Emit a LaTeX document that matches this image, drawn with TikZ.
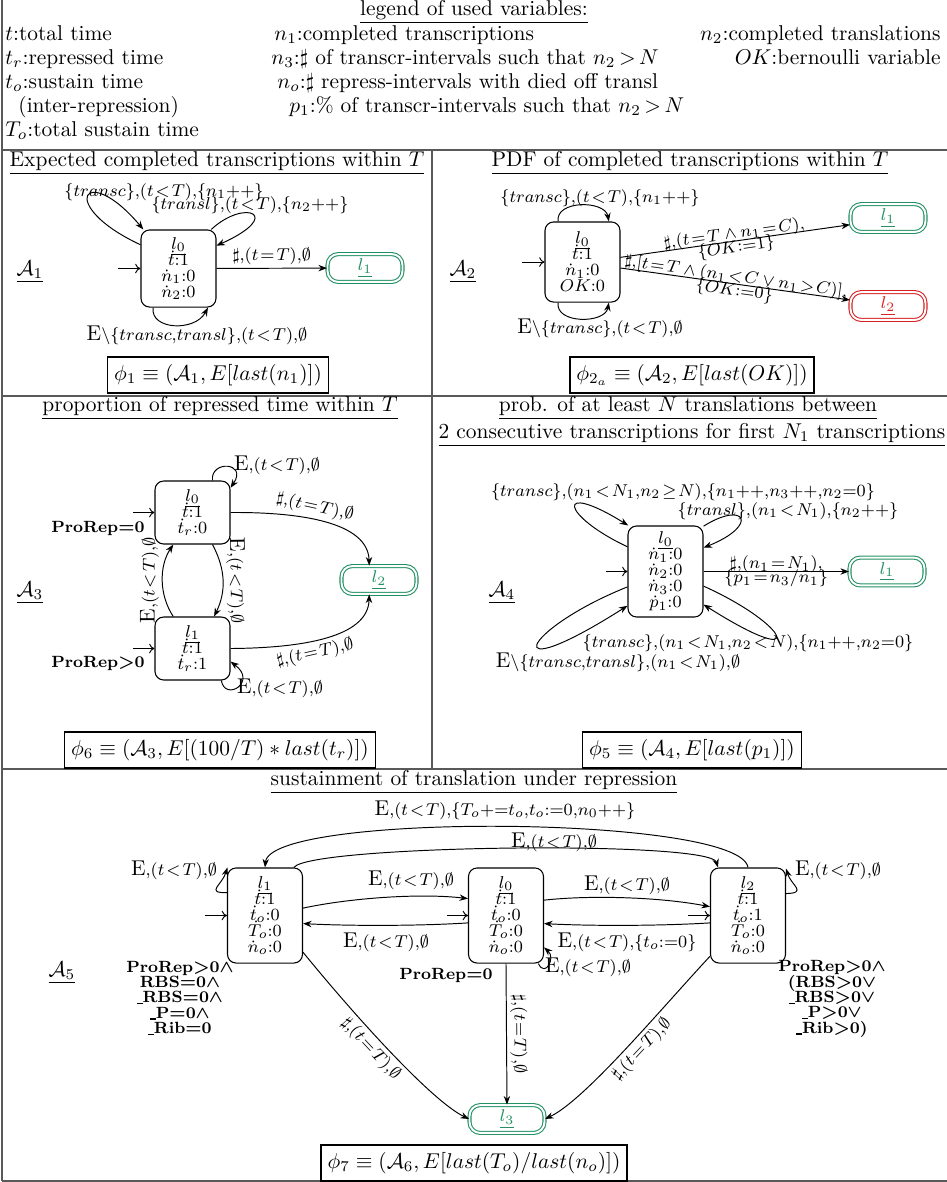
\documentclass[tikz,border=0pt]{standalone}
\usepackage{amsmath,amssymb}
\usetikzlibrary{arrows.meta}
\definecolor{fgreen}{RGB}{35,145,100}
\definecolor{fred}{RGB}{215,35,35}
\newcommand{\tlT}{(t\!<\!T)}
\newcommand{\teT}{(t\!=\!T)}
\newcommand{\Eb}{{\normalsize E}}
\newcommand{\cm}{{,}}
\newcommand{\ubar}{\rule[-0.6pt]{2.6pt}{0.6pt}}
\begin{document}
\begin{tikzpicture}[x=0.467pt,y=-0.467pt,
  st/.style={draw,rounded corners=4pt,align=center,font={\footnotesize\baselineskip=7.5pt\lineskiplimit=-100pt\relax},minimum width=35pt,inner sep=1pt,line width=0.5pt},
  fin/.style={draw=#1,double,double distance=0.9pt,rounded corners=5pt,minimum width=35pt,minimum height=13pt,text=#1,font=\footnotesize,line width=0.5pt,inner sep=1pt},
  lab/.style={font=\footnotesize,inner sep=1.5pt},
  labtwo/.style={font={\footnotesize\baselineskip=6.5pt\lineskiplimit=-100pt\relax},align=center,inner sep=0.5pt},
  tr/.style={-{Stealth[length=4pt,width=3pt]},line width=0.45pt},
  ini/.style={-{To[length=2.5pt,width=4.5pt]},line width=0.45pt},
  phi/.style={draw,line width=0.6pt,inner sep=3pt,minimum height=16.8pt},
  gridln/.style={draw=black!65,line width=0.7pt},
  cond/.style={font={\fontsize{7.6}{7.2}\selectfont\bfseries\boldmath\lineskiplimit=-100pt\relax},align=center,inner sep=0pt},
  ttl/.style={inner sep=1pt},
  leg/.style={inner sep=0pt}
]
\useasboundingbox (0,0) rectangle (947,1182);
% table lines
\draw[gridln] (2,0) -- (2,1181);
\draw[gridln] (2,150) -- (947,150);
\draw[gridln] (2,396) -- (947,396);
\draw[gridln] (2,769) -- (947,769);
\draw[gridln] (432,150) -- (432,769);
\draw[gridln,line width=1.2pt] (2,1181) -- (947,1181);

% legend
\node[leg,anchor=base] (lt) at (474,15) {\underline{legend of used variables:}};
\node[leg,anchor=base west] (v1) at (5,40.5) {$t$:total time};
\node[leg,anchor=base west] (v2) at (5,64.5) {$t_r$:repressed time};
\node[leg,anchor=base west] (v3) at (5,88.5) {$t_o$:sustain time};
\node[leg,anchor=base west] (v4) at (18,112.5) {(inter-repression)};
\node[leg,anchor=base west] (v5) at (5,136.5) {$T_o$:total sustain time};
\node[leg,anchor=base west] (m1) at (274,40.5) {$n_1$:completed transcriptions};
\node[leg,anchor=base west] (m2) at (271,64.5) {$n_3$:$\sharp$ of transcr-intervals such that $n_2\,{>}\,N$};
\node[leg,anchor=base west] (m3) at (277,88.5) {$n_o$:$\sharp$ repress-intervals with died off transl};
\node[leg,anchor=base west] (m4) at (289,112.5) {$p_1$:\% of transcr-intervals such that $n_2\,{>}\,N$};
\node[leg,anchor=base east] (r1) at (941,40.5) {$n_2$:completed translations};
\node[leg,anchor=base east] (r2) at (941,64.5) {$OK$:bernoulli variable};

% ---------- A1
\node[ttl] (t1) at (217,163) {\underline{Expected completed transcriptions within $T$}};
\node (a1) at (30,272) {$\underline{\mathcal{A}_1}$};
\node[st,minimum height=36pt] (s10) at (178.5,268.5) {$\underline{l_0}$\\$\dot{t}$:1\\$\dot{n}_1$:0\\$\dot{n}_2$:0};
\node[fin=fgreen] (f11) at (365,268) {$\underline{l_1}$};
\coordinate (i10) at (118,268.5);
\draw[ini] (i10) -- (s10);
\draw[tr] (s10) -- node[lab,above]{$\sharp\cm\teT\cm\emptyset$} (f11);
\draw[tr] (s10.148.6) .. controls (55,205) and (85,160) .. (s10.132.7);
\draw[tr] (s10.50.7) .. controls (245,198) and (285,215) .. (s10.31.4);
\draw[tr] (s10.-123.5) .. controls (150,330) and (195,332) .. (s10.-53.5);
\node[lab] (l11) at (164,192) {$\{transc\}\cm\tlT\cm\{n_1{+}{+}\}$};
\node[lab] (l12) at (250,205) {$\{transl\}\cm\tlT\cm\{n_2{+}{+}\}$};
\node[lab] (l13) at (197,335) {\Eb$\backslash\{transc\cm transl\}\cm\tlT\cm\emptyset$};
\node[phi] (p1) at (218,375) {$\phi_1 \equiv (\mathcal{A}_1, E[last(n_1)])$};

% ---------- A2
\node[ttl] (t2) at (690,163) {\underline{PDF of completed transcriptions within $T$}};
\node (a2) at (463,272) {$\underline{\mathcal{A}_2}$};
\node[st,minimum height=37.4pt] (s20) at (582.5,262) {$\underline{l_0}$\\$\dot{t}$:1\\$\dot{n}_1$:0\\$OK$:0};
\node[fin=fgreen] (f21) at (888,218) {$\underline{l_1}$};
\node[fin=fred] (f22) at (888,306) {$\underline{l_2}$};
\coordinate (i20) at (522,262);
\draw[ini] (i20) -- (s20);
\draw[tr] (s20.7.6) -- node[labtwo,sloped]{$\sharp\cm(t\!=\!T\wedge n_1\!=\!C)\cm$\\$\{OK{:=}1\}$} (f21.190);
\draw[tr] (s20.-9) -- node[labtwo,sloped]{$\sharp\cm[t\!=\!T\wedge(n_1\!<\!C\vee n_1\!>\!C)]\cm$\\$\{OK{:=}0\}$} (f22.171.5);
\draw[tr] (s20.121.5) .. controls (555,200) and (605,200) .. (s20.57.5);
\draw[tr] (s20.-121.5) .. controls (555,324) and (605,324) .. (s20.-57.5);
\node[lab] (l21) at (600,198) {$\{transc\}\cm\tlT\cm\{n_1{+}{+}\}$};
\node[lab] (l22) at (600,328) {\Eb$\backslash\{transc\}\cm\tlT\cm\emptyset$};
\node[phi] (p2) at (692,375) {$\phi_{2_a} \equiv (\mathcal{A}_2, E[last(OK)])$};

% ---------- A3
\node[ttl] (t3) at (220,408) {\underline{proportion of repressed time within $T$}};
\node (a3) at (30,593) {$\underline{\mathcal{A}_3}$};
\node[st,minimum height=29.4pt] (s30) at (192.5,512.5) {$\underline{l_0}$\\$\dot{t}$:1\\$\dot{t}_r$:0};
\node[st,minimum height=29.4pt] (s31) at (192.5,648.5) {$\underline{l_1}$\\$\dot{t}$:1\\$\dot{t}_r$:1};
\node[fin=fgreen] (f32) at (379,580) {$\underline{l_2}$};
\coordinate (i30) at (133,512.5);
\coordinate (i31) at (133,648.5);
\draw[ini] (i30) -- (s30);
\draw[ini] (i31) -- (s31);
\node[cond] (c30) at (98,528) {ProRep$=$0};
\node[cond] (c31) at (98,663) {ProRep$>$0};
\draw[tr] (s30.58.2) .. controls (210,460) and (248,462) .. (s30.33.2);
\node[lab] (l30) at (277,465) {\Eb$\cm\tlT\cm\emptyset$};
\draw[tr] (s31.-48.9) .. controls (225,702) and (258,682) .. (s31.-19.8);
\node[lab] (l31) at (280,688) {\Eb$\cm\tlT\cm\emptyset$};
\draw[tr] (s30.-58.2) .. controls (226,570) and (226,592) .. node[lab,above,sloped]{\Eb$\cm\tlT\cm\emptyset$} (s31.56.9);
\draw[tr] (s31.121.8) .. controls (159,595) and (159,566) .. node[lab,above,sloped]{\Eb$\cm\tlT\cm\emptyset$} (s30.-121.8);
\draw[tr] (s30.east) .. controls (300,512) and (368,522) .. node[lab,above,sloped,pos=0.42]{$\sharp\cm\teT\cm\emptyset$} (f32.124.5);
\draw[tr] (s31.east) .. controls (300,648) and (368,638) .. node[lab,below,sloped,pos=0.42]{$\sharp\cm\teT\cm\emptyset$} (f32.-124.5);
\node[phi] (p3) at (220,750) {$\phi_6 \equiv (\mathcal{A}_3, E[(100/T)*last(t_r)])$};

% ---------- A4
\node[ttl] (t4a) at (688,408) {\underline{prob. of at least $N$ translations between}};
\node[ttl] (t4b) at (692,435) {\underline{2 consecutive transcriptions for first $N_1$ transcriptions}};
\node (a4) at (502,593) {$\underline{\mathcal{A}_4}$};
\node[st,minimum height=42.5pt] (s40) at (665.5,571.5) {$\underline{l_0}$\\$\dot{n}_1$:0\\$\dot{n}_2$:0\\$\dot{n}_3$:0\\$\dot{p}_1$:0};
\node[fin=fgreen] (f41) at (887,571.5) {$\underline{l_1}$};
\coordinate (i40) at (606,571.5);
\draw[ini] (i40) -- (s40);
\draw[tr] (s40) -- node[labtwo]{$\sharp\cm(n_1\!=\!N_1)\cm$\\$\{p_1\!=\!n_3/n_1\}$} (f41);
\draw[tr] (s40.147.9) .. controls (560,515) and (555,480) .. (s40.129.5);
\node[lab] (l41) at (683,492) {$\{transc\}\cm(n_1\!<\!N_1\cm n_2\!\geq\! N)\cm\{n_1{+}{+}\cm n_3{+}{+}\cm n_2{=}0\}$};
\draw[tr] (s40.50.5) .. controls (745,500) and (760,525) .. (s40.32.1);
\node[lab] (l42) at (788,511) {$\{transl\}\cm(n_1\!<\!N_1)\cm\{n_2{+}{+}\}$};
\draw[tr] (s40.-158.9) .. controls (520,630) and (495,690) .. (s40.-138.2);
\node[lab] (l43) at (618,662) {\Eb$\backslash\{transc\cm transl\}\cm(n_1\!<\!N_1)\cm\emptyset$};
\draw[tr] (s40.-21.1) .. controls (790,625) and (810,672) .. (s40.-41.8);
\node[lab] (l44) at (748,643) {$\{transc\}\cm(n_1\!<\!N_1\cm n_2\!<\!N)\cm\{n_1{+}{+}\cm n_2{=}0\}$};
\node[phi] (p4) at (692,750) {$\phi_5 \equiv (\mathcal{A}_4, E[last(p_1)])$};

% ---------- A5
\node[ttl] (t5) at (474,782) {\underline{sustainment of translation under repression}};
\node (a5) at (62,973) {$\underline{\mathcal{A}_5}$};
\node[st,minimum height=44.4pt] (s51) at (265,915.5) {$\underline{l_1}$\\$\dot{t}$:1\\$\dot{t}_o$:0\\$\dot{T}_o$:0\\$\dot{n}_o$:0};
\node[st,minimum height=44.4pt] (s50) at (506,915.5) {$\underline{l_0}$\\$\dot{t}$:1\\$\dot{t}_o$:0\\$\dot{T}_o$:0\\$\dot{n}_o$:0};
\node[st,minimum height=44.4pt] (s52) at (748,915.5) {$\underline{l_2}$\\$\dot{t}$:1\\$\dot{t}_o$:1\\$\dot{T}_o$:0\\$\dot{n}_o$:0};
\node[fin=fgreen] (f53) at (507,1119) {$\underline{l_3}$};
\coordinate (i51) at (205,915.5);
\coordinate (i50) at (447,915.5);
\coordinate (i52) at (688,915.5);
\draw[ini] (i51) -- (s51);
\draw[ini] (i50) -- (s50);
\draw[ini] (i52) -- (s52);
\draw[tr] (s51.149.4) .. controls (205,893) and (222,885) .. (s51.128.7);
\node[lab] (l51) at (174,870) {\Eb$\cm\tlT\cm\emptyset$};
\draw[tr] (s52.30.6) .. controls (808,893) and (791,885) .. (s52.51.3);
\node[lab] (l52) at (838,870) {\Eb$\cm\tlT\cm\emptyset$};
\draw[tr] (s50.-56.9) .. controls (545,978) and (556,958) .. (s50.-40.5);
\node[lab] (l50) at (588,967) {\Eb$\cm\tlT\cm\emptyset$};
\draw[tr] (s51.11.2) .. controls (350,898) and (420,893) .. (s50.156.5);
\node[lab] (l5a) at (411,880) {\Eb$\cm\tlT\cm\emptyset$};
\draw[tr] (s50.191.2) .. controls (420,926) and (350,926) .. (s51.-12.6);
\node[lab] (l5b) at (386,942) {\Eb$\cm\tlT\cm\emptyset$};
\draw[tr] (s50.22.2) .. controls (590,895) and (660,897) .. (s52.167.4);
\node[lab] (l5c) at (627,885) {\Eb$\cm\tlT\cm\emptyset$};
\draw[tr] (s52.191.2) .. controls (660,926) and (590,926) .. (s50.-12.6);
\node[lab] (l5d) at (627,942) {\Eb$\cm\tlT\cm\{t_o{:=}0\}$};
\draw[tr] (s51.59.5) .. controls (310,845) and (710,840) .. (s52.122.3);
\node[lab] (l5e) at (554,842) {\Eb$\cm\tlT\cm\emptyset$};
\draw[tr] (s52.north) .. controls (740,815) and (270,812) .. (s51.north);
\node[lab] (l5f) at (505,810) {\Eb$\cm\tlT\cm\{T_o{+}{=}t_o\cm t_o{:=}0\cm n_0{+}{+}\}$};
\draw[tr] (s51.-44.6) .. controls (350,1010) and (430,1100) .. node[lab,below,sloped,pos=0.45]{$\sharp\cm\teT\cm\emptyset$} (f53.west);
\draw[tr] (s50.south) -- node[lab,above,sloped]{$\sharp\cm\teT\cm\emptyset$} (f53.north);
\draw[tr] (s52.-133.9) .. controls (660,1010) and (585,1100) .. node[lab,below,sloped,pos=0.45]{$\sharp\cm\teT\cm\emptyset$} (f53.east);
\node[cond] (c51) at (180,998) {ProRep$>$0$\wedge$\\RBS$=$0$\wedge$\\\ubar RBS$=$0$\wedge$\\\ubar P$=$0$\wedge$\\\ubar Rib$=$0};
\node[cond] (c50) at (446,975) {ProRep$=$0};
\node[cond] (c52) at (832,999) {ProRep$>$0$\wedge$\\(RBS$>$0$\vee$\\\ubar RBS$>$0$\vee$\\\ubar P$>$0$\vee$\\\ubar Rib$>$0)};
\node[phi] (p5) at (474,1163) {$\phi_7 \equiv (\mathcal{A}_6, E[last(T_o)/last(n_o)])$};
\end{tikzpicture}
\end{document}
